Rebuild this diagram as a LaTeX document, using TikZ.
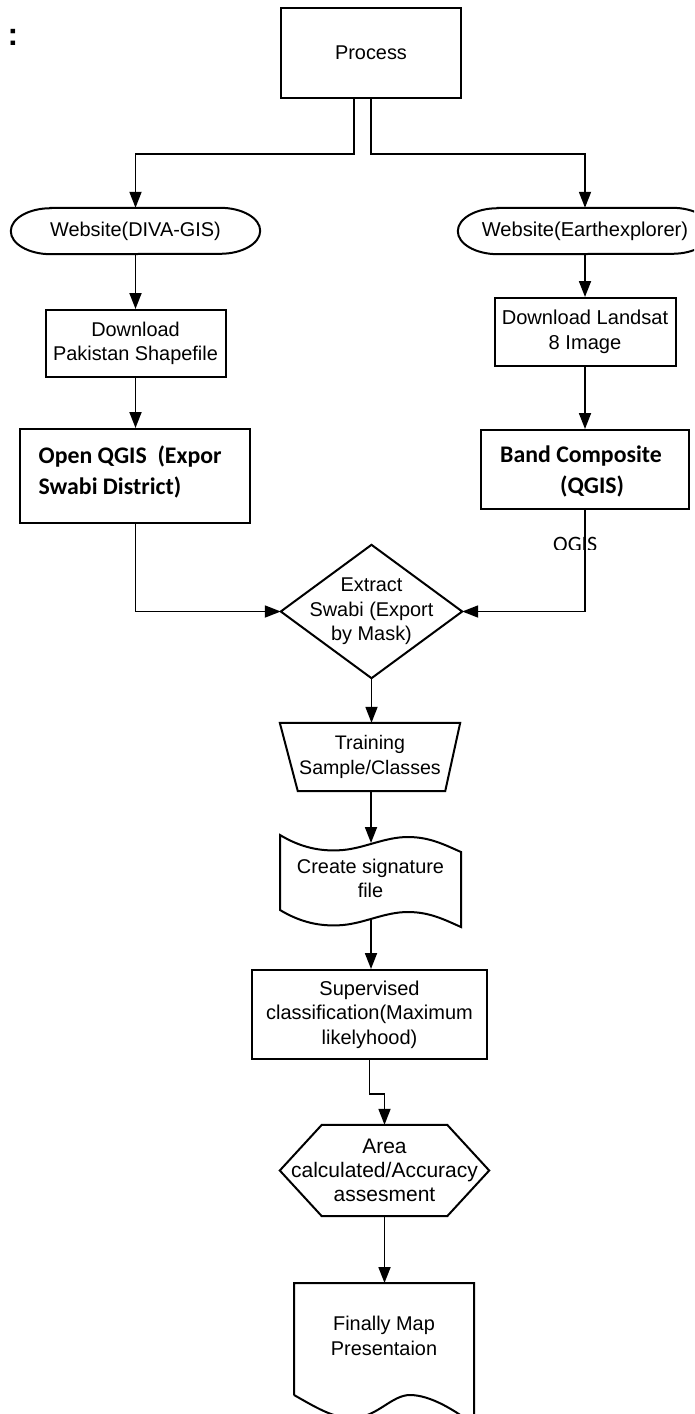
\documentclass[tikz,border=0pt]{standalone}
\usepackage{fontspec}
\setmainfont{Liberation Sans}
\newfontfamily\carl{Carlito}
\usetikzlibrary{arrows.meta,calc}
\begin{document}
\begin{tikzpicture}[x=1pt,y=-1pt,
  shp/.style={draw=black,line width=2pt,line join=miter},
  arr/.style={draw=black,line width=1.8pt,-{Triangle[length=16pt,width=12pt]}},
  txt/.style={font=\fontsize{19.9}{24.5}\selectfont,align=center,inner sep=0pt},
  bold/.style={font=\carl\bfseries\fontsize{23.8}{31}\selectfont,align=left,inner sep=0pt},
  box/.style={shp,txt},
  hid/.style={txt,draw=none}
]
\useasboundingbox (0,0) rectangle (694,1414);
\clip (0,0) rectangle (694,1414);

% colon
\node[font=\bfseries\fontsize{32}{32}\selectfont,anchor=base,inner sep=0pt] (colon) at (13,45) {:};

% Process
\node[box,minimum width=180pt,minimum height=90pt] (proc) at (371,53) {Process};

% terminators
\node[hid,minimum width=249pt,minimum height=46pt] (w1) at (135.5,231) {Website(DIVA-GIS)};
\draw[shp] ($(w1.north west)+(40,0)$) -- ($(w1.north east)+(-40,0)$)
  arc[start angle=90,end angle=-90,x radius=40pt,y radius=23pt]
  -- ($(w1.south west)+(40,0)$)
  arc[start angle=270,end angle=90,x radius=40pt,y radius=23pt] -- cycle;
\node[hid,font=\fontsize{20.1}{24.5}\selectfont,minimum width=254pt,minimum height=46pt] (w2) at (585,231) {Website(Earthexplorer)};
\draw[shp] ($(w2.north west)+(40,0)$) -- ($(w2.north east)+(-40,0)$)
  arc[start angle=90,end angle=-90,x radius=40pt,y radius=23pt]
  -- ($(w2.south west)+(40,0)$)
  arc[start angle=270,end angle=90,x radius=40pt,y radius=23pt] -- cycle;

% download boxes
\node[box,minimum width=180pt,minimum height=67pt] (dl1) at (135.5,343.5) {Download\\Pakistan Shapefile};
\node[box,font=\fontsize{20.1}{24.5}\selectfont,minimum width=181pt,minimum height=68pt] (dl2) at (585,332) {Download Landsat\\8 Image};

% QGIS boxes
\node[shp,minimum width=230pt,minimum height=94pt] (qg1) at (134.5,476) {};
\node[bold,anchor=west] (qg1t) at ([xshift=20pt,yshift=4pt]qg1.west) {Open QGIS\ \ (Expor\\Swabi District)};
\node[shp,minimum width=208pt,minimum height=79pt] (qg2) at (585,469.5) {};
\node[bold,anchor=west] (qg2t) at ([xshift=20pt,yshift=-2pt]qg2.west) {Band Composite\\\hspace*{60pt}(QGIS)};

% clipped OGIS label
\begin{scope}
\clip (540,525) rectangle (620,549.5);
\node[font=\carl\fontsize{22}{22}\selectfont,anchor=base west,inner sep=0pt] (og) at (553,551) {OGIS};
\end{scope}

% diamond
\node[hid,minimum width=181pt,minimum height=133pt] (ext) at (371.5,611.5) {Extract\\Swabi (Export\\by Mask)};
\draw[shp] (ext.north) -- (ext.east) -- (ext.south) -- (ext.west) -- cycle;

% trapezoid
\node[hid,font=\fontsize{19.6}{24.5}\selectfont,minimum width=180pt,minimum height=68pt] (trn) at (370,757) {Training\\Sample/Classes};
\draw[shp] (trn.north west) -- (trn.north east) -- ($(trn.south east)+(-15,0)$) -- ($(trn.south west)+(18,0)$) -- cycle;

% punched tape
\node[hid,minimum width=181pt] (sig) at (370.5,878.5) {Create signature\\file};
\draw[shp] (280,835) .. controls (300,847) and (320,852) .. (343,850)
  .. controls (365,848) and (385,837) .. (408,837)
  .. controls (430,837) and (445,845) .. (461,852)
  -- (461,927)
  .. controls (445,920) and (430,912) .. (408,912)
  .. controls (385,912) and (365,923) .. (343,925)
  .. controls (320,927) and (300,922) .. (280,910) -- cycle;
\coordinate (sigtop) at (371,843);
\coordinate (sigbot) at (371,919);

% supervised
\node[box,font=\fontsize{20}{24.5}\selectfont,minimum width=235pt,minimum height=89pt] (sup) at (369.5,1014.5) {Supervised\\classification(Maximum\\likelyhood)};

% hexagon
\node[hid,font=\fontsize{21}{24}\selectfont,minimum width=209pt,minimum height=91pt] (hex) at (384.5,1170.5) {Area\\calculated/Accuracy\\assesment};
\draw[shp] ($(hex.north west)+(42,0)$) -- ($(hex.north east)+(-42,0)$) -- (hex.east)
  -- ($(hex.south east)+(-42,0)$) -- ($(hex.south west)+(42,0)$) -- (hex.west) -- cycle;

% final document
\node[hid] (fin) at (384,1336) {Finally Map\\Presentaion};
\draw[shp] (294,1395) -- (294,1283) -- (474,1283) -- (474,1425)
  .. controls (455,1410) and (430,1395) .. (410,1395)
  .. controls (392,1395) and (378,1416) .. (355,1418)
  .. controls (335,1420) and (312,1405) .. (294,1395);
\coordinate (fintop) at (384.5,1283);

% connectors
\draw[arr] ([xshift=-17pt]proc.south) -- ++(0,55) -| (w1.north);
\draw[arr] (proc.south) -- ++(0,55) -| (w2.north);
\draw[arr] (w1.south) -- (dl1.north);
\draw[arr] (w2.south) -- (dl2.north);
\draw[arr] (dl1.south) -- (dl1.south |- qg1.north);
\draw[arr] (dl2.south) -- (qg2.north);
\draw[arr] (dl1.south |- qg1.south) |- (ext.west);
\draw[arr] (qg2.south) |- (ext.east);
\draw[arr] (ext.south) -- (ext.south |- trn.north);
\draw[arr] (trn.south -| sigtop) -- (sigtop);
\draw[arr] (sigbot) -- (sigbot |- sup.north);
\draw[arr] (sup.south) -- ++(0,34) -| (hex.north);
\draw[arr] (hex.south) -- (fintop);
\end{tikzpicture}
\end{document}
